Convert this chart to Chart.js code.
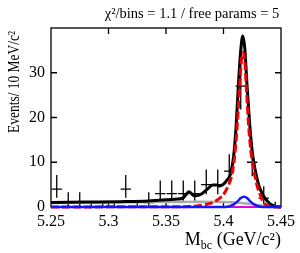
<!DOCTYPE html>
<html>
<head>
<meta charset="utf-8">
<script src="https://cdn.jsdelivr.net/npm/chart.js@4.4.0/dist/chart.umd.min.js"></script>
<style>
  html, body { margin: 0; padding: 0; background: #fff; }
  #wrap { width: 300px; height: 253px; }
</style>
</head>
<body>
<div id="wrap"><canvas id="c"></canvas></div>
<script>
// data points (10 MeV bins)
const binCenters = [5.255, 5.265, 5.275, 5.285, 5.295, 5.305, 5.315, 5.325, 5.335, 5.345,
                    5.355, 5.365, 5.375, 5.385, 5.395, 5.405, 5.415, 5.425, 5.435, 5.445]
const counts  = [4, 1, 1, 0, 0, 0, 4, 0, 1, 3, 3, 3, 3, 5, 5, 8, 27, 10, 2, 0]
const errLow  = [2.09, 0.17, 0.17, 0, 0, 0, 2.09, 0, 0.17, 1.37, 1.37, 1.37, 1.37, 2.84, 2.84, 5.32, 21.8, 6.89, 0.71, 0]
const errHigh = [7.16, 3.30, 3.30, 1.15, 1.15, 1.15, 7.16, 1.15, 3.30, 5.92, 5.92, 5.92, 5.92, 8.38, 8.38, 11.77, 32.3, 14.27, 4.64, 1.15]
const binHalf = 0.0045

// total fit (black)
const totalX = [5.25, 5.28, 5.31, 5.335, 5.35, 5.36, 5.3645, 5.3675, 5.370, 5.3725, 5.3745, 5.38, 5.386, 5.3905,
                5.394, 5.397, 5.400, 5.403, 5.406, 5.409, 5.411, 5.413, 5.415, 5.4167, 5.4185, 5.4205, 5.4225,
                5.4245, 5.426, 5.4285, 5.431, 5.433, 5.436, 5.4386, 5.441, 5.445, 5.45]
const totalY = [1.0, 1.1, 1.2, 1.35, 1.6, 1.8, 1.95, 2.8, 3.4, 2.9, 2.5, 2.8, 4.0, 4.9,
                4.9, 4.7, 5.1, 6.0, 7.3, 11.8, 18.2, 27.5, 35.0, 38.2, 35.5, 27.0, 19.5,
                13.5, 10.5, 7.1, 4.6, 3.4, 2.0, 1.2, 0.6, 0.15, 0.0]

// signal (red dashed)
const sigX = [5.25, 5.33, 5.37, 5.38, 5.3885, 5.3935, 5.3987, 5.4015, 5.4044, 5.4065, 5.408, 5.4095, 5.411,
              5.4125, 5.414, 5.4155, 5.417, 5.4185, 5.42, 5.4215, 5.423, 5.4245, 5.427, 5.4295, 5.431,
              5.4344, 5.437, 5.44, 5.445, 5.45]
const sigY = [0.0, 0.05, 0.1, 0.35, 0.8, 1.4, 2.4, 3.4, 4.9, 6.4, 8.2, 10.9, 15.0,
              20.5, 27.0, 32.5, 34.5, 32.5, 26.0, 19.5, 14.5, 11.0, 7.3, 4.5, 3.4,
              1.2, 0.5, 0.15, 0.0, 0.0]

// second peaking component (blue)
const blueX = [5.25, 5.40, 5.403, 5.406, 5.409, 5.412, 5.415, 5.4178, 5.4205, 5.4235, 5.4265, 5.4295, 5.4325, 5.436, 5.45]
const blueY = [0, 0, 0.05, 0.25, 0.6, 1.2, 2.0, 2.3, 2.0, 1.2, 0.6, 0.25, 0.05, 0, 0]

// combinatorial background (grey)
const bkgX = [5.25, 5.30, 5.35, 5.38, 5.40, 5.41, 5.42, 5.43, 5.437, 5.441, 5.45]
const bkgY = [0.9, 1.0, 1.1, 1.15, 1.1, 1.0, 0.8, 0.45, 0.15, 0.0, 0.0]

// magenta component
const magX = [5.25, 5.45]
const magY = [0.08, 0.08]

const pts = (xs, ys) => xs.map((x, i) => ({ x: x, y: ys[i] }))
const serif = '"Liberation Serif", "DejaVu Serif", serif'

const curve = (data, color, width, order, dash) => ({
  data: data,
  showLine: true,
  borderColor: color,
  borderWidth: width,
  borderDash: dash || [],
  pointRadius: 0,
  fill: false,
  cubicInterpolationMode: 'monotone',
  clip: false,
  order: order
})

const decorations = {
  id: 'decorations',
  beforeDatasetsDraw(chart) {
    const { ctx, chartArea: a, scales: { x, y } } = chart
    ctx.save()
    ctx.strokeStyle = '#000'
    ctx.lineWidth = 1.3
    // frame and inward ticks
    ctx.strokeRect(a.left, a.top, a.right - a.left, a.bottom - a.top)
    const len = 6
    ctx.beginPath()
    x.ticks.forEach(t => {
      if (t.value <= x.min + 1e-9 || t.value >= x.max - 1e-9) return
      const px = x.getPixelForValue(t.value)
      ctx.moveTo(px, a.bottom); ctx.lineTo(px, a.bottom - len)
      ctx.moveTo(px, a.top); ctx.lineTo(px, a.top + len)
    })
    y.ticks.forEach(t => {
      if (t.value <= y.min || t.value >= y.max) return
      const py = y.getPixelForValue(t.value)
      ctx.moveTo(a.left, py); ctx.lineTo(a.left + len, py)
      ctx.moveTo(a.right, py); ctx.lineTo(a.right - len, py)
    })
    ctx.stroke()
    // data points with error bars
    ctx.beginPath()
    binCenters.forEach((bc, i) => {
      const px = x.getPixelForValue(bc)
      const py = y.getPixelForValue(counts[i])
      ctx.moveTo(x.getPixelForValue(bc - binHalf), py)
      ctx.lineTo(x.getPixelForValue(bc + binHalf), py)
      ctx.moveTo(px, y.getPixelForValue(errLow[i]))
      ctx.lineTo(px, y.getPixelForValue(errHigh[i]))
    })
    ctx.stroke()
    ctx.restore()
  },
  afterDraw(chart) {
    const { ctx, chartArea: a } = chart
    ctx.save()
    ctx.fillStyle = '#000'
    // fit quality text
    ctx.font = '14.5px ' + serif
    ctx.textAlign = 'center'
    ctx.textBaseline = 'alphabetic'
    ctx.fillText('χ²/bins = 1.1 / free params = 5', 192, 18)
    // y title (slightly condensed like the original)
    ctx.save()
    ctx.translate(19, 82)
    ctx.rotate(-Math.PI / 2)
    ctx.scale(0.84, 1)
    ctx.font = '16px ' + serif
    ctx.textAlign = 'center'
    ctx.fillText('Events/ 10 MeV/c²', 0, 0)
    ctx.restore()
    // x title, right aligned to plot area
    ctx.textAlign = 'left'
    const big = '18px ' + serif, small = '12px ' + serif
    ctx.font = big
    const wM = ctx.measureText('M').width
    const wRest = ctx.measureText(' (GeV/c²)').width
    ctx.font = small
    const wSub = ctx.measureText('bc').width
    let cx = a.right - (wM + wSub + wRest)
    const base = 245
    ctx.font = big
    ctx.fillText('M', cx, base)
    cx += wM
    ctx.font = small
    ctx.fillText('bc', cx, base + 4)
    cx += wSub
    ctx.font = big
    ctx.fillText(' (GeV/c²)', cx, base)
    ctx.restore()
  }
}

new Chart(document.getElementById('c'), {
  type: 'scatter',
  data: {
    datasets: [
      curve(pts(blueX, blueY), 'rgb(20, 20, 255)', 2.5, 0),
      curve(pts(sigX, sigY), 'rgb(240, 0, 0)', 3, 1, [8, 3]),
      curve(pts(totalX, totalY), '#000', 3, 2),
      curve(pts(bkgX, bkgY), 'rgb(170, 170, 170)', 2.5, 3),
      curve(pts(magX, magY), 'rgb(255, 0, 255)', 1, 4)
    ]
  },
  options: {
    responsive: true,
    maintainAspectRatio: false,
    animation: false,
    layout: { padding: { top: 28, right: 15, left: 0, bottom: 0 } },
    plugins: {
      legend: { display: false },
      tooltip: { enabled: false }
    },
    scales: {
      x: {
        type: 'linear',
        min: 5.25,
        max: 5.45,
        afterFit: s => { s.height = 46 },
        grid: { display: false, drawTicks: false },
        border: { display: false },
        ticks: {
          stepSize: 0.05,
          padding: 5,
          color: '#000',
          font: { family: serif, size: 16 },
          maxRotation: 0,
          callback: v => Number(v.toFixed(2)).toString()
        }
      },
      y: {
        min: 0,
        max: 40,
        afterFit: s => { s.width = 51 },
        grid: { display: false, drawTicks: false },
        border: { display: false },
        ticks: {
          stepSize: 10,
          padding: 6,
          color: '#000',
          font: { family: serif, size: 16 },
          callback: v => v >= 40 ? '' : v
        }
      }
    }
  },
  plugins: [decorations]
})
</script>
</body>
</html>
